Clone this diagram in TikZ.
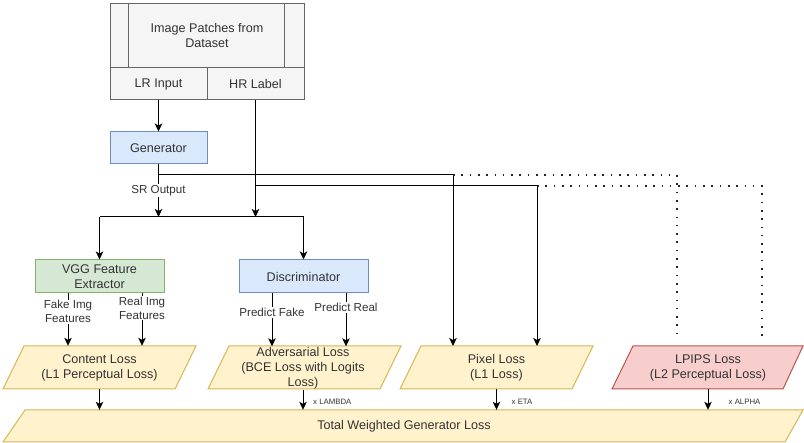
\documentclass[tikz,border=0pt]{standalone}
\usepackage{fontspec}
\setmainfont{Liberation Sans}
\usetikzlibrary{arrows.meta,calc}
\definecolor{grayfill}{HTML}{F5F5F5}
\definecolor{graydraw}{HTML}{666666}
\definecolor{txt}{HTML}{333333}
\definecolor{bluefill}{HTML}{DAE8FC}
\definecolor{bluedraw}{HTML}{6C8EBF}
\definecolor{greenfill}{HTML}{D5E8D4}
\definecolor{greendraw}{HTML}{82B366}
\definecolor{yelfill}{HTML}{FFF2CC}
\definecolor{yeldraw}{HTML}{D6B656}
\definecolor{redfill}{HTML}{F8CECC}
\definecolor{reddraw}{HTML}{B85450}
\tikzset{
  boxtext/.style={inner sep=0pt, align=center, text=txt, font=\fontsize{12.6}{15}\selectfont},
  box/.style={boxtext, draw, line width=1pt},
  srcbox/.style={box, fill=grayfill, draw=graydraw, minimum width=97pt, minimum height=32pt},
  bluebox/.style={box, fill=bluefill, draw=bluedraw},
  greenbox/.style={box, fill=greenfill, draw=greendraw},
  yelpara/.style={fill=yelfill, draw=yeldraw, line width=1pt},
  redpara/.style={fill=redfill, draw=reddraw, line width=1pt},
  plain/.style={line width=1pt, draw=black},
  conn/.style={plain, -{Stealth[length=8pt,width=7.5pt,inset=2pt]}},
  lbl/.style={fill=white, inner sep=1pt, align=center, text=txt, font=\fontsize{11.6}{14}\selectfont},
  tinylbl/.style={anchor=west, inner sep=0pt, text=txt, font=\fontsize{7.8}{9}\selectfont},
  dots/.style={line width=1.6pt, dash pattern=on 1.6pt off 6.7pt, draw=black!85}
}
\begin{document}
\begin{tikzpicture}[x=1pt,y=-1pt]
\useasboundingbox (0,0) rectangle (804,443);

% source box
\node[box, fill=grayfill, draw=graydraw, minimum width=194pt, minimum height=64pt] (src) at (207,36) {};
\draw[graydraw, line width=1pt] ($(src.north west)+(19,0)$) -- ($(src.south west)+(19,0)$);
\draw[graydraw, line width=1pt] ($(src.north east)+(-20,0)$) -- ($(src.south east)+(-20,0)$);
\node[boxtext] (srctext) at (src.center) {Image Patches from\\Dataset};
\node[srcbox] (lr) at (158.5,84) {LR Input};
\node[srcbox] (hr) at (255.5,84) {HR Label};

% generator
\node[bluebox, minimum width=97pt, minimum height=32pt] (gen) at (158.5,148) {Generator};

% second row
\node[greenbox, minimum width=129pt, minimum height=33pt] (vgg) at (99.5,276.5) {VGG Feature\\Extractor};
\node[bluebox, minimum width=129pt, minimum height=33pt] (disc) at (303.5,276.5) {Discriminator};

% loss parallelograms
\path[yelpara] (24,346) -- (196,346) -- (175,389) -- (3,389) -- cycle;
\node[boxtext, minimum height=43pt] (content) at (99.5,367.5) {Content Loss\\(L1 Perceptual Loss)};
\path[yelpara] (229,346) -- (401,346) -- (380,389) -- (208,389) -- cycle;
\node[boxtext, minimum height=43pt] (adv) at (303,368) {Adversarial Loss\\(BCE Loss with Logits\\Loss)};
\path[yelpara] (421,346) -- (593,346) -- (572,389) -- (400,389) -- cycle;
\node[boxtext, minimum height=43pt] (pix) at (496.5,367.5) {Pixel Loss\\(L1 Loss)};
\path[redpara] (633,346) -- (803,346) -- (783,389) -- (612,389) -- cycle;
\node[boxtext, minimum height=43pt] (lpips) at (708,367.5) {LPIPS Loss\\(L2 Perceptual Loss)};
\path[yelpara] (25,410) -- (803,410) -- (785,442) -- (3,442) -- cycle;
\node[boxtext, minimum height=32pt] (total) at (404,426) {Total Weighted Generator Loss};

% coordinates
\coordinate (bar) at (0,217);
\coordinate (ya) at (0,175);
\coordinate (yb) at (0,186);
\coordinate (px1) at (453,346);
\coordinate (px2) at (537,346);
\coordinate (lp1) at (677,340);
\coordinate (lp2) at (762,340);
\coordinate (fk1) at ($(vgg.south)+(-31.5,0)$);
\coordinate (rl1) at ($(vgg.south)+(42.5,0)$);
\coordinate (fk2) at ($(disc.south)+(-31.5,0)$);
\coordinate (rl2) at ($(disc.south)+(42.5,0)$);

% top connectors
\draw[conn] (lr.south) -- (gen.north);
\draw[conn] (gen.south) -- node[lbl, pos=0.5] (srout) {SR Output} (gen.south |- bar);
\draw[conn] (hr.south) -- (hr.south |- bar);
\draw[plain] (vgg.north |- bar) -- (disc.north |- bar);
\draw[conn] (vgg.north |- bar) -- (vgg.north);
\draw[conn] (disc.north |- bar) -- (disc.north);

% to pixel loss
\draw[conn] (gen.south |- ya) -| (px1);
\draw[conn] (hr.south |- yb) -| (px2);
% dotted to LPIPS
\draw[dots] (px1 |- ya) -| (lp1);
\draw[dots] (px2 |- yb) -| (lp2);

% feature / prediction connectors
\draw[conn] (fk1) -- node[lbl, pos=0.35] (fklbl) {Fake Img\\Features} (fk1 |- content.north);
\draw[conn] (rl1) -- node[lbl, pos=0.28] (rllbl) {Real Img\\Features} (rl1 |- content.north);
\draw[conn] (fk2) -- node[lbl, pos=0.36] (pflbl) {Predict Fake} (fk2 |- adv.north);
\draw[conn] (rl2) -- node[lbl, pos=0.27] (prlbl) {Predict Real} (rl2 |- adv.north);

% to total
\draw[conn] (content.south) -- (content.south |- total.north);
\draw[conn] (adv.south) -- (adv.south |- total.north);
\draw[conn] (pix.south) -- (pix.south |- total.north);
\draw[conn] (lpips.south) -- (lpips.south |- total.north);
\node[tinylbl] (wl) at (313,401.5) {x LAMBDA};
\node[tinylbl] (we) at (511.5,401.5) {x ETA};
\node[tinylbl] (wa) at (728.5,402) {x ALPHA};
\end{tikzpicture}
\end{document}
